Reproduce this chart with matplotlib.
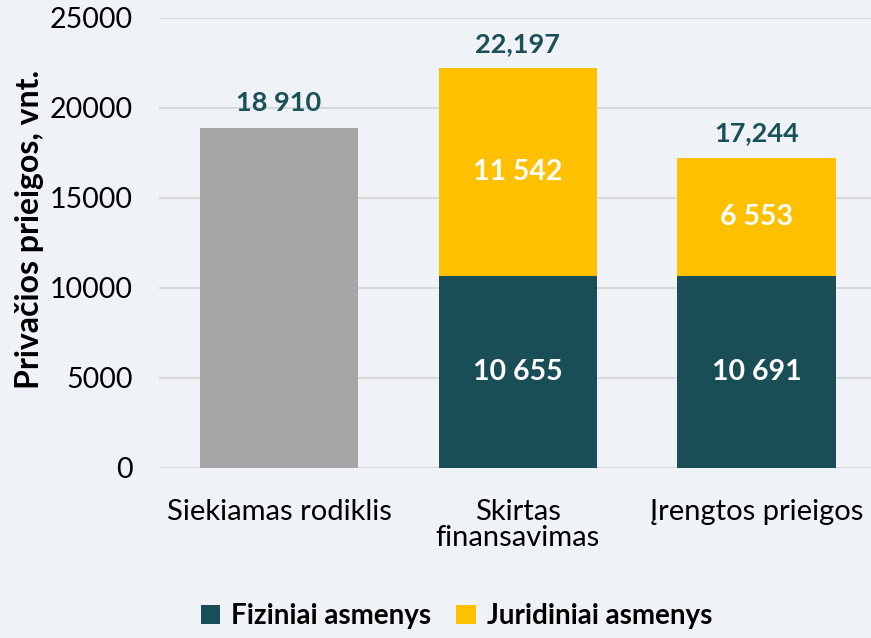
import matplotlib
matplotlib.use("Agg")
import matplotlib.pyplot as plt
import numpy as np

categories = ["Siekiamas rodiklis", "Skirtas\nfinansavimas", "Įrengtos prieigos"]
target = [18910, 0, 0]
fiziniai = [0, 10655, 10691]
juridiniai = [0, 11542, 6553]
inner_fiz = ["", "10 655", "10 691"]
inner_jur = ["", "11 542", "6 553"]
top_labels = ["18 910", "22,197", "17,244"]
yticks = [0, 5000, 10000, 15000, 20000, 25000]

bg = "#eff3f7"
teal = "#1a4e56"
yellow = "#ffc000"
grey = "#a5a5a5"
label_col = "#1b5059"

plt.rcParams["font.family"] = ["Lato", "DejaVu Sans"]

fig = plt.figure(figsize=(8.71, 6.38), dpi=100, facecolor=bg)
ax = fig.add_axes([0.1825, 0.2665, 0.8175, 0.7053], facecolor=bg)

x = np.arange(len(categories))
w = 0.663
ax.bar(x[:1], target[:1], w, color=grey, zorder=3)
ax.bar(x[1:], fiziniai[1:], w, color=teal, zorder=3, label="Fiziniai asmenys")
ax.bar(x[1:], juridiniai[1:], w, bottom=fiziniai[1:], color=yellow, zorder=3,
       label="Juridiniai asmenys")

totals = [target[i] + fiziniai[i] + juridiniai[i] for i in range(3)]
for i in range(3):
    ax.text(x[i], totals[i] + 700, top_labels[i], ha="center", va="bottom",
            fontsize=19.5, fontweight="bold", color=label_col)
    if fiziniai[i]:
        ax.text(x[i], fiziniai[i] / 2, inner_fiz[i], ha="center", va="center",
                fontsize=20.5, fontweight="bold", color="white", zorder=4)
        ax.text(x[i], fiziniai[i] + juridiniai[i] / 2, inner_jur[i], ha="center",
                va="center", fontsize=20.5, fontweight="bold", color="white", zorder=4)

ax.set_ylim(0, 25000)
ax.set_xlim(-0.503, 2.48)
ax.set_yticks(yticks)
ax.set_yticklabels([str(v) for v in yticks], fontsize=20.5)
ax.set_xticks(x)
ax.set_xticklabels(categories, fontsize=21, linespacing=1.0)
ax.tick_params(axis="y", length=0, pad=19)
ax.tick_params(axis="x", length=0, pad=22)
ax.grid(axis="y", color="#d9d9d9", linewidth=1.5, zorder=0)
for s in ax.spines.values():
    s.set_visible(False)

fig.text(30 / 871, 0.64, "Privačios prieigos, vnt.", rotation=90, ha="center",
         va="center", fontsize=23, fontweight="bold")

leg = fig.legend(loc="lower center", bbox_to_anchor=(0.524, -0.025), ncol=2, frameon=False,
                 handlelength=0.7, handleheight=0.7, columnspacing=0.9,
                 handletextpad=0.4, prop={"weight": "bold", "size": 20})

fig.savefig("out.png", dpi=100, facecolor=bg)
